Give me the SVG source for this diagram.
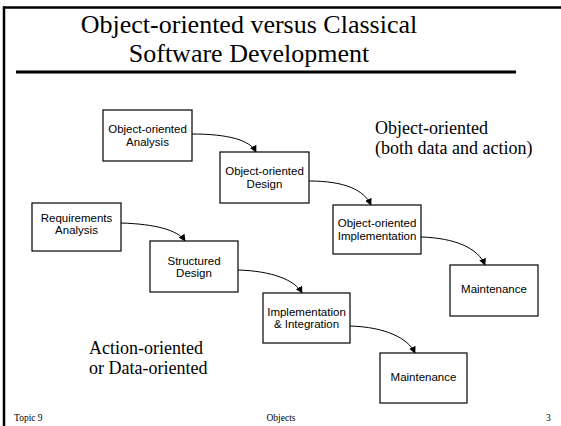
<svg xmlns="http://www.w3.org/2000/svg" width="561" height="426" viewBox="0 0 561 426">
  <style>
    .box { fill: #ffffff; stroke: #000000; stroke-width: 1.2; }
    .lbl { font-family: "Liberation Sans", Arial, sans-serif; font-size: 11.5px; fill: #000; text-anchor: middle; }
    .title { font-family: "Liberation Serif", "Times New Roman", serif; font-size: 26px; fill: #000; }
    .note { font-family: "Liberation Serif", "Times New Roman", serif; font-size: 18px; fill: #000; }
    .foot { font-family: "Liberation Serif", "Times New Roman", serif; font-size: 9.5px; fill: #000; }
    .edge { fill: none; stroke: #000; stroke-width: 1; marker-end: url(#arrow); }
  </style>
  <defs>
    <marker id="arrow" viewBox="0 0 10 10" refX="9" refY="5" markerWidth="7" markerHeight="7" markerUnits="userSpaceOnUse" orient="auto">
      <path d="M0,0 L10,5 L0,10 z" fill="#000"/>
    </marker>
  </defs>

  <rect width="561" height="426" fill="#ffffff"/>

  <!-- slide frame -->
  <g id="frame">
    <line x1="3" y1="7.5" x2="561" y2="7.5" stroke="#000" stroke-width="2.5"/>
    <line x1="4" y1="6.5" x2="4" y2="426" stroke="#000" stroke-width="2.5"/>
  </g>

  <!-- heading -->
  <g id="heading">
    <text class="title" x="249" y="33" text-anchor="middle">Object-oriented versus Classical</text>
    <text class="title" x="249" y="62" text-anchor="middle">Software Development</text>
    <line x1="16" y1="72" x2="516" y2="72" stroke="#000" stroke-width="3"/>
  </g>

  <!-- connectors -->
  <g id="connectors">
    <path class="edge" d="M192,134 C228,134 250,140 256,152"/>
    <path class="edge" d="M309,181 C345,181 364,190 371,205"/>
    <path class="edge" d="M421,237 C455,238 478,248 485,265"/>
    <path class="edge" d="M121,223 C155,224 178,230 185,241"/>
    <path class="edge" d="M238,270 C272,271 295,280 302,293"/>
    <path class="edge" d="M350,326 C385,327 408,338 415,353"/>
  </g>

  <!-- object-oriented track -->
  <g id="oo-analysis">
    <rect class="box" x="103" y="110" width="89" height="51"/>
    <text class="lbl" x="147.5" y="133">Object-oriented</text>
    <text class="lbl" x="147.5" y="145.5">Analysis</text>
  </g>
  <g id="oo-design">
    <rect class="box" x="220" y="152" width="89" height="51"/>
    <text class="lbl" x="264.5" y="175">Object-oriented</text>
    <text class="lbl" x="264.5" y="187.5">Design</text>
  </g>
  <g id="oo-implementation">
    <rect class="box" x="333" y="205" width="88" height="49"/>
    <text class="lbl" x="377" y="227">Object-oriented</text>
    <text class="lbl" x="377" y="239.5">Implementation</text>
  </g>
  <g id="oo-maintenance">
    <rect class="box" x="450" y="265" width="88" height="51"/>
    <text class="lbl" x="494" y="293">Maintenance</text>
  </g>

  <!-- classical track -->
  <g id="requirements">
    <rect class="box" x="32" y="203" width="89" height="48"/>
    <text class="lbl" x="76.5" y="222">Requirements</text>
    <text class="lbl" x="76.5" y="234">Analysis</text>
  </g>
  <g id="structured-design">
    <rect class="box" x="150" y="241" width="88" height="51"/>
    <text class="lbl" x="194" y="264.5">Structured</text>
    <text class="lbl" x="194" y="276.5">Design</text>
  </g>
  <g id="implementation-integration">
    <rect class="box" x="263" y="293" width="87" height="50"/>
    <text class="lbl" x="306.5" y="315.5">Implementation</text>
    <text class="lbl" x="306.5" y="328">&amp; Integration</text>
  </g>
  <g id="classical-maintenance">
    <rect class="box" x="380" y="353" width="87" height="50"/>
    <text class="lbl" x="423.5" y="381">Maintenance</text>
  </g>

  <!-- track captions -->
  <g id="captions">
    <text class="note" x="375" y="134">Object-oriented</text>
    <text class="note" x="375" y="154">(both data and action)</text>
    <text class="note" x="89" y="354">Action-oriented</text>
    <text class="note" x="89" y="374">or Data-oriented</text>
  </g>

  <!-- footer -->
  <g id="footer">
    <text class="foot" x="14" y="421">Topic 9</text>
    <text class="foot" x="281" y="421" text-anchor="middle">Objects</text>
    <text class="foot" x="546" y="421">3</text>
  </g>
</svg>
